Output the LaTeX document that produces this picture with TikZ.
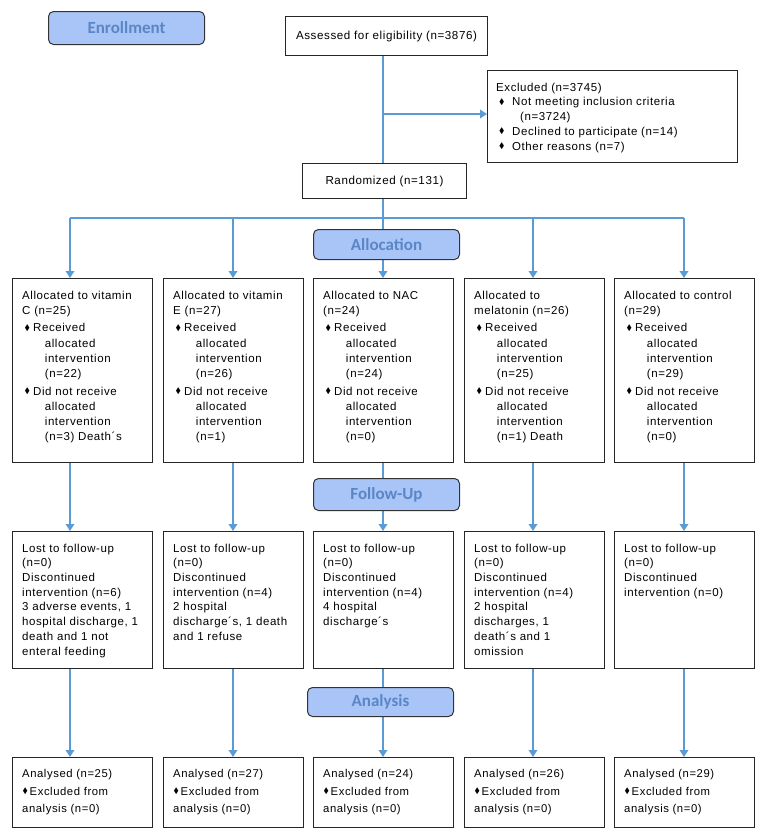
\documentclass[tikz,border=0pt]{standalone}
\usepackage{fontspec}
\usepackage{amssymb}
\usepackage{graphicx}
\usetikzlibrary{arrows.meta,calc}
\newfontfamily\bxf{Liberation Sans}[LetterSpace=5]
\newfontfamily\hdf{Carlito}
\definecolor{arrblue}{HTML}{5B9BD5}
\definecolor{hdfill}{HTML}{A9C5F8}
\definecolor{hdtext}{HTML}{5A86C6}
\newcommand\bul{\hspace*{2.5pt}\makebox[8.5pt][l]{\raisebox{0.25ex}{\scalebox{0.7}{$\blacklozenge$}}}}
\newcommand\bulx{\hspace*{3pt}\makebox[13pt][l]{\raisebox{0.25ex}{\scalebox{0.7}{$\blacklozenge$}}}}
\newcommand\bula{\hspace*{0.5pt}\makebox[7pt][l]{\raisebox{0.25ex}{\scalebox{0.7}{$\blacklozenge$}}}}
\newcommand\ind{\hspace*{22.7pt}}
\tikzset{
  box/.style={draw=black!85, line width=1pt, fill=white, inner sep=0pt, anchor=north west},
  cbox/.style={draw=black!85, line width=1pt, fill=white, inner sep=0pt, anchor=north west, font=\bxf\fontsize{11.6}{14}\selectfont},
  txtA/.style={inner sep=0pt, align=left, anchor=north west, font=\bxf\fontsize{11.5}{15.3}\selectfont},
  txtF/.style={inner sep=0pt, align=left, anchor=north west, font=\bxf\fontsize{11.5}{14.7}\selectfont},
  txtN/.style={inner sep=0pt, align=left, anchor=north west, font=\bxf\fontsize{11.3}{17.5}\selectfont},
  hdr/.style={draw=black!80, line width=1pt, fill=hdfill, rounded corners=5pt, text=hdtext, font=\hdf\bfseries\fontsize{17}{20}\selectfont, inner sep=0pt, anchor=north west},
  conn/.style={draw=arrblue, line width=1.8pt},
  arr/.style={draw=arrblue, line width=1.8pt, -{Triangle[length=7pt,width=8.5pt]}}
}
\begin{document}
\begin{tikzpicture}[x=1pt,y=-1pt]
\useasboundingbox (0,0) rectangle (764,839);
% top boxes
\node[cbox, minimum width=202, minimum height=39] (assess) at (285,16) {Assessed for eligibility (n=3876)};
\node[box, minimum width=250, minimum height=92] (excl) at (487,70) {};
\node[txtF, font=\bxf\fontsize{11.5}{14.75}\selectfont] (exclt) at ($(excl.north west)+(9,10.7)$) {\strut Excluded (n=3745)\\ \bulx Not meeting inclusion criteria\\ \hspace*{24pt}(n=3724)\\ \bulx Declined to participate (n=14)\\ \bulx Other reasons (n=7)};
\node[cbox, minimum width=164, minimum height=35] (rand) at (302,163) {Randomized (n=131)};
% column coordinates
\coordinate (c1) at (70,218);
\coordinate (c2) at (233,218);
\coordinate (c3) at (383,218);
\coordinate (c4) at (533,218);
\coordinate (c5) at (684,218);
\coordinate (ex) at (383,114);
% allocation, follow-up and analysis boxes
\foreach \i/\x in {1/12,2/163,3/313,4/464,5/614}{
  \node[box, minimum width=140, minimum height=184] (a\i) at (\x,278) {};
  \node[box, minimum width=140, minimum height=137] (f\i) at (\x,531) {};
  \node[box, minimum width=140, minimum height=70] (n\i) at (\x,757) {};
}
\node[txtA] (a1t) at ($(a1.north west)+(10,10.3)$) {\strut Allocated to vitamin\\ C (n=25)\\[2pt] \bul Received\\ \ind allocated\\ \ind intervention\\ \ind (n=22)\\[2pt] \bul Did not receive\\ \ind allocated\\ \ind intervention\\ \ind (n=3) Death´s};
\node[txtA] (a2t) at ($(a2.north west)+(10,10.3)$) {\strut Allocated to vitamin\\ E (n=27)\\[2pt] \bul Received\\ \ind allocated\\ \ind intervention\\ \ind (n=26)\\[2pt] \bul Did not receive\\ \ind allocated\\ \ind intervention\\ \ind (n=1)};
\node[txtA] (a3t) at ($(a3.north west)+(10,10.3)$) {\strut Allocated to NAC\\ (n=24)\\[2pt] \bul Received\\ \ind allocated\\ \ind intervention\\ \ind (n=24)\\[2pt] \bul Did not receive\\ \ind allocated\\ \ind intervention\\ \ind (n=0)};
\node[txtA] (a4t) at ($(a4.north west)+(10,10.3)$) {\strut Allocated to\\ melatonin (n=26)\\[2pt] \bul Received\\ \ind allocated\\ \ind intervention\\ \ind (n=25)\\[2pt] \bul Did not receive\\ \ind allocated\\ \ind intervention\\ \ind (n=1) Death};
\node[txtA] (a5t) at ($(a5.north west)+(10,10.3)$) {\strut Allocated to control\\ (n=29)\\[2pt] \bul Received\\ \ind allocated\\ \ind intervention\\ \ind (n=29)\\[2pt] \bul Did not receive\\ \ind allocated\\ \ind intervention\\ \ind (n=0)};
% follow-up texts
\node[txtF] (f1t) at ($(f1.north west)+(10,10.7)$) {\strut Lost to follow-up\\ (n=0)\\ Discontinued\\ intervention (n=6)\\ 3 adverse events, 1\\ hospital discharge, 1\\ death and 1 not\\ enteral feeding};
\node[txtF] (f2t) at ($(f2.north west)+(10,10.7)$) {\strut Lost to follow-up\\ (n=0)\\ Discontinued\\ intervention (n=4)\\ 2 hospital\\ discharge´s, 1 death\\ and 1 refuse};
\node[txtF] (f3t) at ($(f3.north west)+(10,10.7)$) {\strut Lost to follow-up\\ (n=0)\\ Discontinued\\ intervention (n=4)\\ 4 hospital\\ discharge´s};
\node[txtF] (f4t) at ($(f4.north west)+(10,10.7)$) {\strut Lost to follow-up\\ (n=0)\\ Discontinued\\ intervention (n=4)\\ 2 hospital\\ discharges, 1\\ death´s and 1\\ omission};
\node[txtF] (f5t) at ($(f5.north west)+(10,10.7)$) {\strut Lost to follow-up\\ (n=0)\\ Discontinued\\ intervention (n=0)};
% analysis texts
\node[txtN] (n1t) at ($(n1.north west)+(10,8.3)$) {\strut Analysed (n=25)\\ \bula Excluded from\\ analysis (n=0)};
\node[txtN] (n2t) at ($(n2.north west)+(10,8.3)$) {\strut Analysed (n=27)\\ \bula Excluded from\\ analysis (n=0)};
\node[txtN] (n3t) at ($(n3.north west)+(10,8.3)$) {\strut Analysed (n=24)\\ \bula Excluded from\\ analysis (n=0)};
\node[txtN] (n4t) at ($(n4.north west)+(10,8.3)$) {\strut Analysed (n=26)\\ \bula Excluded from\\ analysis (n=0)};
\node[txtN] (n5t) at ($(n5.north west)+(10,8.3)$) {\strut Analysed (n=29)\\ \bula Excluded from\\ analysis (n=0)};
% connectors
\draw[conn] (assess.south -| c3) -- (rand.north -| c3);
\draw[arr] (ex) -- (ex -| excl.west);
\draw[conn] (rand.south -| c3) -- (c3);
\draw[conn] (c1) -- (c5);
\foreach \i in {1,...,5}{
  \draw[arr] (c\i) -- (c\i |- a\i.north);
  \draw[arr] (a\i.south -| c\i) -- (f\i.north -| c\i);
  \draw[arr] (f\i.south -| c\i) -- (n\i.north -| c\i);
}
% phase headers
\node[hdr, minimum width=156, minimum height=33] (henr) at (48,11) {Enrollment};
\node[hdr, minimum width=146, minimum height=30] (halloc) at (313,229) {Allocation};
\node[hdr, minimum width=146, minimum height=32] (hfol) at (313,478) {Follow-Up};
\node[hdr, minimum width=146, minimum height=29] (hana) at (307,687) {Analysis};
\end{tikzpicture}
\end{document}
